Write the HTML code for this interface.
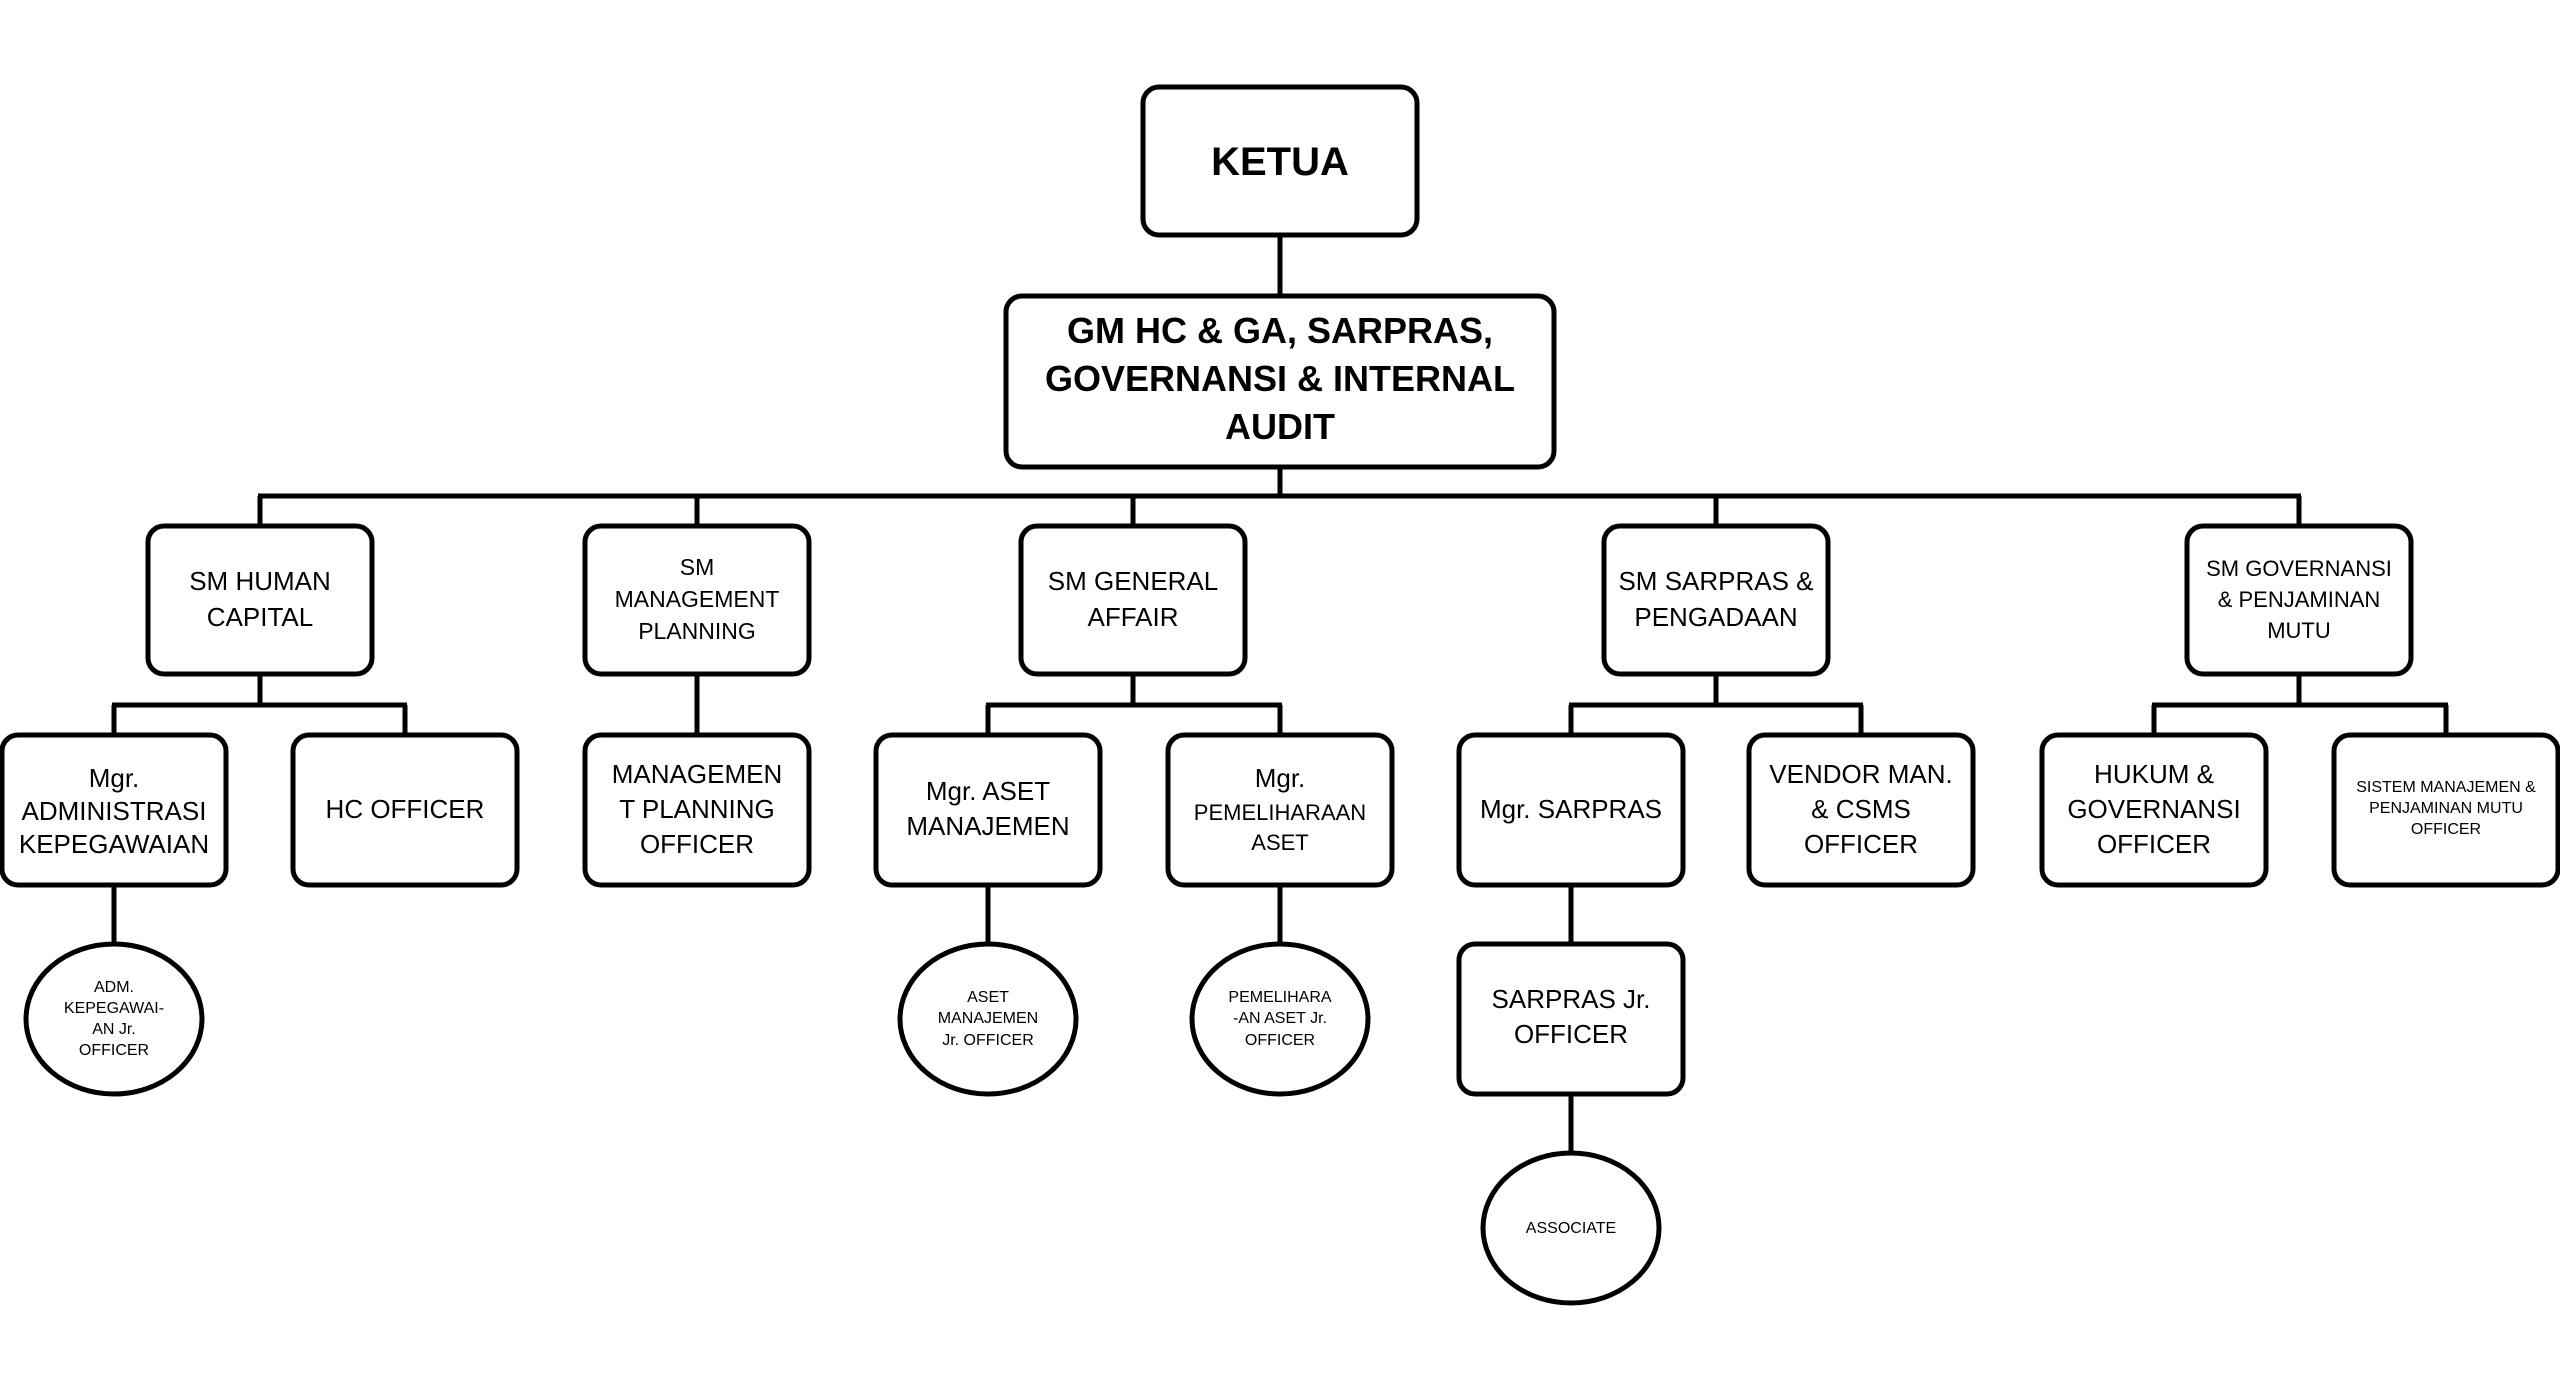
<!DOCTYPE html>
<html><head><meta charset="utf-8"><style>
html,body{margin:0;padding:0;background:#fff;}
svg{display:block;}
text{font-family:"Liberation Sans",sans-serif;fill:#000;text-anchor:middle;}
</style></head><body>
<svg width="2560" height="1389" viewBox="0 0 2560 1389" xmlns="http://www.w3.org/2000/svg">
<g stroke="#000" stroke-width="5" fill="none">
<line x1="1280" y1="235" x2="1280" y2="296"/>
<line x1="1280" y1="467" x2="1280" y2="496"/>
<line x1="258" y1="496" x2="2301" y2="496"/>
<line x1="260" y1="496" x2="260" y2="526"/>
<line x1="697" y1="496" x2="697" y2="526"/>
<line x1="1133" y1="496" x2="1133" y2="526"/>
<line x1="1716" y1="496" x2="1716" y2="526"/>
<line x1="2299" y1="496" x2="2299" y2="526"/>
<!-- level 3 -->
<line x1="260" y1="674" x2="260" y2="705"/><line x1="112" y1="705" x2="407" y2="705"/>
<line x1="114" y1="705" x2="114" y2="735"/><line x1="405" y1="705" x2="405" y2="735"/>
<line x1="697" y1="674" x2="697" y2="735"/>
<line x1="1133" y1="674" x2="1133" y2="705"/><line x1="986" y1="705" x2="1282" y2="705"/>
<line x1="988" y1="705" x2="988" y2="735"/><line x1="1280" y1="705" x2="1280" y2="735"/>
<line x1="1716" y1="674" x2="1716" y2="705"/><line x1="1569" y1="705" x2="1863" y2="705"/>
<line x1="1571" y1="705" x2="1571" y2="735"/><line x1="1861" y1="705" x2="1861" y2="735"/>
<line x1="2299" y1="674" x2="2299" y2="705"/><line x1="2152" y1="705" x2="2448" y2="705"/>
<line x1="2154" y1="705" x2="2154" y2="735"/><line x1="2446" y1="705" x2="2446" y2="735"/>
<line x1="114" y1="885" x2="114" y2="944"/>
<line x1="988" y1="885" x2="988" y2="944"/>
<line x1="1280" y1="885" x2="1280" y2="944"/>
<line x1="1571" y1="885" x2="1571" y2="944"/>
<line x1="1571" y1="1094" x2="1571" y2="1153"/>
</g>
<g stroke="#000" stroke-width="5" fill="#fff">
<rect x="1143" y="87" width="274" height="148" rx="16"/>
<rect x="1006" y="296" width="548" height="171" rx="16"/>
<rect x="148" y="526" width="224" height="148" rx="16"/>
<rect x="585" y="526" width="224" height="148" rx="16"/>
<rect x="1021" y="526" width="224" height="148" rx="16"/>
<rect x="1604" y="526" width="224" height="148" rx="16"/>
<rect x="2187" y="526" width="224" height="148" rx="16"/>
<rect x="2" y="735" width="224" height="150" rx="16"/>
<rect x="293" y="735" width="224" height="150" rx="16"/>
<rect x="585" y="735" width="224" height="150" rx="16"/>
<rect x="876" y="735" width="224" height="150" rx="16"/>
<rect x="1168" y="735" width="224" height="150" rx="16"/>
<rect x="1459" y="735" width="224" height="150" rx="16"/>
<rect x="1749" y="735" width="224" height="150" rx="16"/>
<rect x="2042" y="735" width="224" height="150" rx="16"/>
<rect x="2334" y="735" width="224" height="150" rx="16"/>
<rect x="1459" y="944" width="224" height="150" rx="16"/>
<ellipse cx="114" cy="1019" rx="88" ry="75"/>
<ellipse cx="988" cy="1019" rx="88" ry="75"/>
<ellipse cx="1280" cy="1019" rx="88" ry="75"/>
<ellipse cx="1571" cy="1228" rx="88" ry="75"/>
</g>
<text x="1280" y="175" font-size="40" font-weight="bold">KETUA</text>
<text font-size="36" font-weight="bold"><tspan x="1280" y="343">GM HC &amp; GA, SARPRAS,</tspan><tspan x="1280" y="391">GOVERNANSI &amp; INTERNAL</tspan><tspan x="1280" y="439">AUDIT</tspan></text>
<g font-size="26">
<text><tspan x="260" y="590">SM HUMAN</tspan><tspan x="260" y="626">CAPITAL</tspan></text>
<text font-size="23"><tspan x="697" y="575">SM</tspan><tspan x="697" y="607">MANAGEMENT</tspan><tspan x="697" y="639">PLANNING</tspan></text>
<text><tspan x="1133" y="590">SM GENERAL</tspan><tspan x="1133" y="626">AFFAIR</tspan></text>
<text><tspan x="1716" y="590">SM SARPRAS &amp;</tspan><tspan x="1716" y="626">PENGADAAN</tspan></text>
<text font-size="22"><tspan x="2299" y="576">SM GOVERNANSI</tspan><tspan x="2299" y="607">&amp; PENJAMINAN</tspan><tspan x="2299" y="638">MUTU</tspan></text>
<text><tspan x="114" y="787">Mgr.</tspan><tspan x="114" y="820">ADMINISTRASI</tspan><tspan x="114" y="853">KEPEGAWAIAN</tspan></text>
<text x="405" y="818">HC OFFICER</text>
<text><tspan x="697" y="783">MANAGEMEN</tspan><tspan x="697" y="818">T PLANNING</tspan><tspan x="697" y="853">OFFICER</tspan></text>
<text><tspan x="988" y="800">Mgr. ASET</tspan><tspan x="988" y="835">MANAJEMEN</tspan></text>
<text><tspan x="1280" y="787">Mgr.</tspan><tspan x="1280" y="820" font-size="22">PEMELIHARAAN</tspan><tspan x="1280" y="850" font-size="22">ASET</tspan></text>
<text x="1571" y="818">Mgr. SARPRAS</text>
<text><tspan x="1861" y="783">VENDOR MAN.</tspan><tspan x="1861" y="818">&amp; CSMS</tspan><tspan x="1861" y="853">OFFICER</tspan></text>
<text><tspan x="2154" y="783">HUKUM &amp;</tspan><tspan x="2154" y="818">GOVERNANSI</tspan><tspan x="2154" y="853">OFFICER</tspan></text>
<text font-size="16"><tspan x="2446" y="792">SISTEM MANAJEMEN &amp;</tspan><tspan x="2446" y="813">PENJAMINAN MUTU</tspan><tspan x="2446" y="834">OFFICER</tspan></text>
<text><tspan x="1571" y="1008">SARPRAS Jr.</tspan><tspan x="1571" y="1043">OFFICER</tspan></text>
</g>
<g font-size="16">
<text><tspan x="114" y="992">ADM.</tspan><tspan x="114" y="1013">KEPEGAWAI-</tspan><tspan x="114" y="1034">AN Jr.</tspan><tspan x="114" y="1055">OFFICER</tspan></text>
<text><tspan x="988" y="1002">ASET</tspan><tspan x="988" y="1023">MANAJEMEN</tspan><tspan x="988" y="1045">Jr. OFFICER</tspan></text>
<text><tspan x="1280" y="1002">PEMELIHARA</tspan><tspan x="1280" y="1023">-AN ASET Jr.</tspan><tspan x="1280" y="1045">OFFICER</tspan></text>
<text x="1571" y="1233">ASSOCIATE</text>
</g>
</svg>
</body></html>
